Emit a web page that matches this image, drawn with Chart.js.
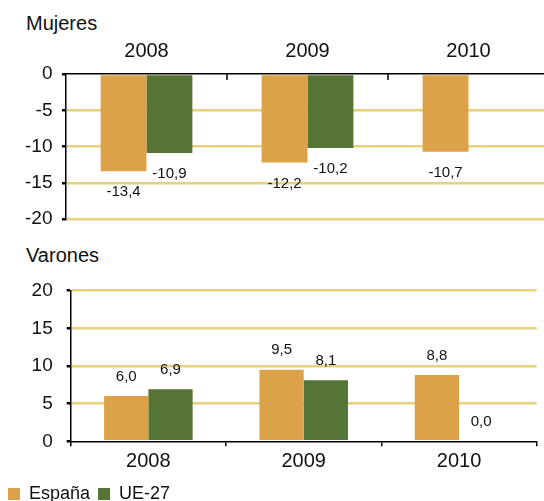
<!DOCTYPE html>
<html>
<head>
<meta charset="utf-8">
<script src="https://cdn.jsdelivr.net/npm/chart.js@4"></script>
<style>
  html, body { margin: 0; padding: 0; background: #fff; width: 544px; height: 501px; overflow: hidden; }
  .wrap { position: absolute; left: 0; }
  .lbl { position: absolute; left: 26px; font-family: "Liberation Sans", Arial, sans-serif; font-size: 20px; line-height: 20px; color: #111; white-space: nowrap; }
  canvas { display: block; }
</style>
</head>
<body>
<div class="lbl" style="top:13px">Mujeres</div>
<div class="lbl" style="top:245px">Varones</div>
<div class="wrap" style="top:0; width:550px; height:240px;"><canvas id="c1" width="550" height="240"></canvas></div>
<div class="wrap" style="top:240px; width:544px; height:273px;"><canvas id="c2" width="544" height="273"></canvas></div>
<script>
// ---- data ----
const years = ['2008', '2009', '2010'];
const seriesNames = ['España', 'UE-27'];
const mujeresEspana = [-13.4, -12.2, -10.7];
const mujeresUE = [-10.9, -10.2, null];
const varonesEspana = [6.0, 9.5, 8.8];
const varonesUE = [6.9, 8.1, 0.0];
const mujeresTicks = [0, -5, -10, -15, -20];
const varonesTicks = [0, 5, 10, 15, 20];

// ---- styles ----
const FONT = '"Liberation Sans", Arial, sans-serif';
const ORANGE = '#dba24a';
const GREEN = '#557435';
const GOLD = '#e8d07e';
const TXT = '#111';
Chart.defaults.font.family = FONT;

const valueLabels = {
  id: 'valueLabels',
  afterDatasetsDraw(chart) {
    const ctx = chart.ctx;
    ctx.save();
    ctx.font = '15px ' + FONT;
    ctx.fillStyle = TXT;
    ctx.textAlign = 'center';
    ctx.textBaseline = 'middle';
    chart.data.datasets.forEach((ds, i) => {
      const meta = chart.getDatasetMeta(i);
      meta.data.forEach((el, j) => {
        const v = ds.data[j];
        if (v === null || v === undefined) return;
        const txt = v.toFixed(1).replace('.', ',');
        const y = v < 0 ? el.y + 21 : el.y - 19.5;
        ctx.fillText(txt, el.x, y);
      });
    });
    ctx.restore();
  }
};

// tick marks pointing into the plot for the top (Mujeres) category axis
const innerTicks = {
  id: 'innerTicks',
  afterDraw(chart) {
    const xs = chart.scales.x;
    const ctx = chart.ctx;
    const n = xs.ticks.length;
    ctx.save();
    ctx.strokeStyle = '#000';
    ctx.lineWidth = 1.5;
    ctx.beginPath();
    for (let i = 1; i < n; i++) {
      const px = Math.round((xs.getPixelForTick(i - 1) + xs.getPixelForTick(i)) / 2);
      ctx.moveTo(px, chart.chartArea.top);
      ctx.lineTo(px, chart.chartArea.top + 6);
    }
    ctx.stroke();
    ctx.restore();
  }
};

function gridColor(c) {
  return c.tick && c.tick.value === 0 ? 'rgba(0,0,0,0)' : GOLD;
}

function makeDatasets(a, b) {
  return [
    { label: seriesNames[0], data: a, backgroundColor: ORANGE, borderWidth: 0, barPercentage: 1, categoryPercentage: 0.57 },
    { label: seriesNames[1], data: b, backgroundColor: GREEN, borderWidth: 0, barPercentage: 1, categoryPercentage: 0.57 }
  ];
}

// ---- Mujeres ----
new Chart(document.getElementById('c1'), {
  type: 'bar',
  data: { labels: years, datasets: makeDatasets(mujeresEspana, mujeresUE) },
  options: {
    responsive: false, animation: false,
    layout: { padding: { left: 0, right: 1, top: 0, bottom: 19 } },
    plugins: { legend: { display: false }, tooltip: { enabled: false } },
    scales: {
      x: {
        position: 'top', offset: true,
        grid: { display: true, drawOnChartArea: false, drawTicks: false, offset: true },
        border: { display: true, color: '#000', width: 1.5 },
        ticks: { font: { size: 20 }, color: TXT, padding: 11, maxRotation: 0, autoSkip: false },
        afterFit(s) { s.height = 74; }
      },
      y: {
        min: Math.min(...mujeresTicks), max: Math.max(...mujeresTicks),
        afterBuildTicks(s) { s.ticks = mujeresTicks.map(v => ({ value: v })); },
        ticks: { font: { size: 19 }, color: TXT, padding: 9.5 },
        grid: { color: gridColor, lineWidth: 2.5, tickColor: '#000', tickLength: 4 },
        border: { display: true, color: '#000', width: 1.5 },
        afterFit(s) { s.width = 66; }
      }
    }
  },
  plugins: [valueLabels, innerTicks]
});

// ---- Varones ----
new Chart(document.getElementById('c2'), {
  type: 'bar',
  data: { labels: years, datasets: makeDatasets(varonesEspana, varonesUE) },
  options: {
    responsive: false, animation: false,
    layout: { padding: { left: 0, right: 7.3, top: 50.7, bottom: 0 } },
    plugins: {
      tooltip: { enabled: false },
      legend: {
        position: 'bottom', align: 'start',
        labels: { boxWidth: 12, boxHeight: 12, padding: 8, color: TXT, font: { size: 18 } }
      }
    },
    scales: {
      x: {
        position: 'bottom', offset: true,
        grid: { display: true, drawOnChartArea: false, offset: true, tickLength: 5, color: '#000', tickColor: '#000', lineWidth: 1.5 },
        border: { display: true, color: '#000', width: 1.5 },
        ticks: { font: { size: 20 }, color: TXT, padding: 3, maxRotation: 0, autoSkip: false },
        afterFit(s) { s.height = 35.7; }
      },
      y: {
        min: Math.min(...varonesTicks), max: Math.max(...varonesTicks),
        afterBuildTicks(s) { s.ticks = varonesTicks.map(v => ({ value: v })); },
        ticks: { font: { size: 19 }, color: TXT, padding: 14 },
        grid: { color: gridColor, lineWidth: 2.5, tickColor: '#000', tickLength: 4 },
        border: { display: true, color: '#000', width: 1.5 },
        afterFit(s) { s.width = 70.7; }
      }
    }
  },
  plugins: [valueLabels]
});
</script>
</body>
</html>
